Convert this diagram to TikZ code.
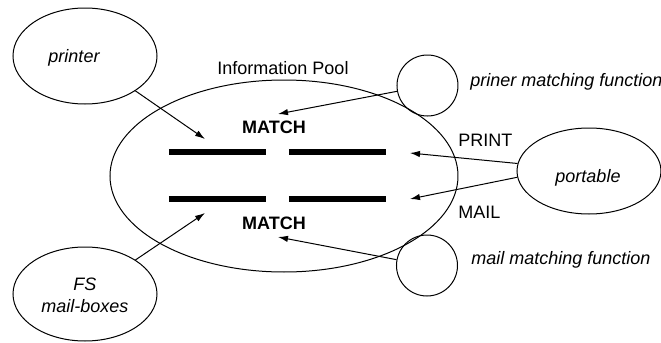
\documentclass[tikz,border=0pt]{standalone}
\usepackage{fontspec}
\setmainfont{Liberation Sans}
\usetikzlibrary{shapes.geometric,arrows.meta}
\begin{document}
\begin{tikzpicture}[x=0.5pt,y=-0.5pt,
  every node/.style={font=\fontsize{9}{11}\selectfont, inner sep=0pt},
  blob/.style={draw, line width=0.5pt, ellipse, inner sep=0pt},
  fcirc/.style={draw, line width=0.5pt, circle, minimum size=30.5pt, inner sep=0pt},
  link/.style={line width=0.5pt, -{Latex[length=5pt,width=3.2pt]}},
  bar/.style={line width=2.6pt},
  txt/.style={anchor=base},
  ltxt/.style={anchor=base west}]
\useasboundingbox (0,0) rectangle (661,343);
% shapes
\node[blob, minimum width=72pt, minimum height=48pt] (printer) at (85,56) {};
\node[blob, minimum width=72pt, minimum height=47pt] (fs) at (85,294) {};
\node[blob, minimum width=174pt, minimum height=96pt] (pool) at (284,176) {};
\node[blob, minimum width=72pt, minimum height=43pt] (portable) at (589,171) {};
\node[fcirc] (pmf) at (427.5,85.5) {};
\node[fcirc] (mmf) at (427,265.5) {};
% bars
\draw[bar] (169,152) -- (266,152);
\draw[bar] (289,152) -- (386,152);
\draw[bar] (169,199) -- (266,199);
\draw[bar] (289,199) -- (386,199);
% texts
\node[txt, font=\fontsize{9}{11}\selectfont\itshape] (tprinter) at (74,62) {printer};
\node[txt, font=\fontsize{9}{11}\selectfont\itshape] (tfs) at (85,290) {FS};
\node[txt, font=\fontsize{9}{11}\selectfont\itshape] (tmb) at (85,312) {mail-boxes};
\node[txt] (tpool) at (283,74) {Information Pool};
\node[txt, font=\fontsize{9}{11}\selectfont\bfseries] (m1) at (274,133) {MATCH};
\node[txt, font=\fontsize{9}{11}\selectfont\bfseries] (m2) at (274,229) {MATCH};
\node[ltxt] (tprint) at (458,146) {PRINT};
\node[ltxt] (tmail) at (458,218) {MAIL};
\node[ltxt, font=\fontsize{9}{11}\selectfont\itshape] (tpmf) at (470,86) {priner matching function};
\node[ltxt, font=\fontsize{9}{11}\selectfont\itshape] (tmmf) at (471,264) {mail matching function};
\node[txt, font=\fontsize{9}{11}\selectfont\itshape] (tport) at (588,182) {portable};
% arrow targets
\coordinate (a1) at (205,139);
\coordinate (a2) at (205,213);
\coordinate (a3) at (278,114);
\coordinate (a4) at (278,237);
\coordinate (a5) at (410,153);
\coordinate (a6) at (410,199);
% connectors
\draw[link] (printer) -- (a1);
\draw[link] (fs) -- (a2);
\draw[link] (pmf) -- (a3);
\draw[link] (mmf) -- (a4);
\draw[link] (portable.174) -- (a5);
\draw[link] (portable.185) -- (a6);
\end{tikzpicture}
\end{document}
